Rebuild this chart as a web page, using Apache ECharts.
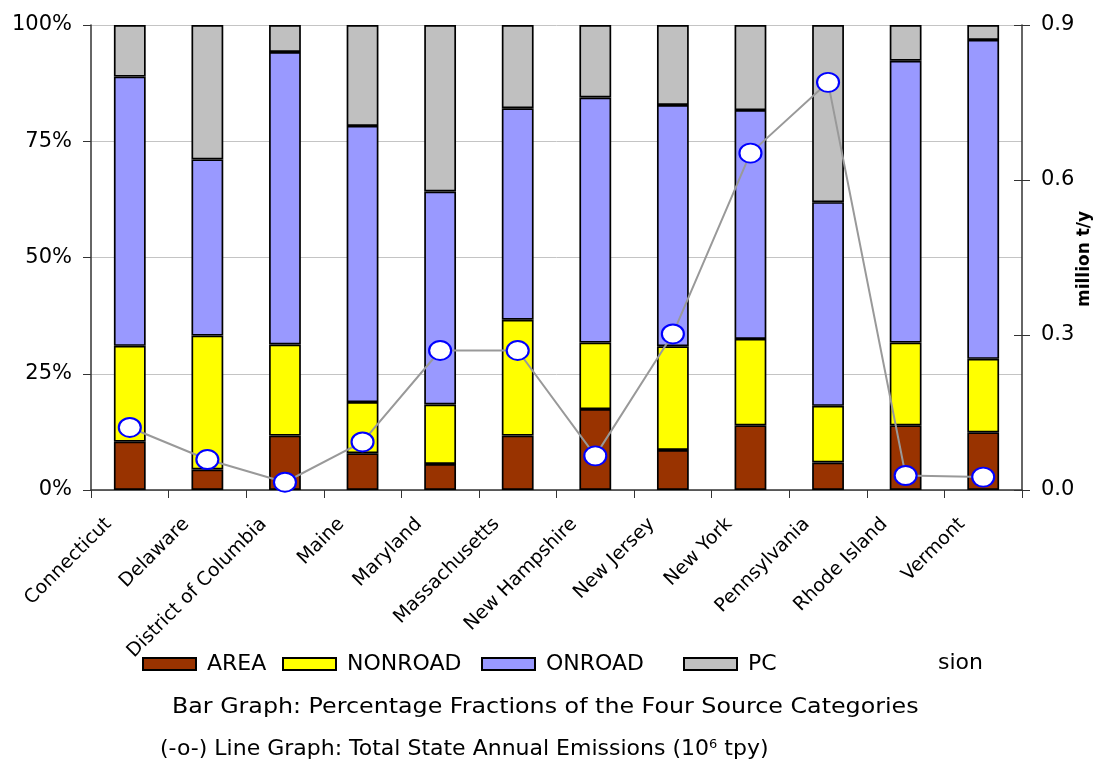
<!DOCTYPE html>
<html><head><meta charset="utf-8">
<script src="https://cdn.jsdelivr.net/npm/echarts@6/dist/echarts.min.js"></script>
<style>html,body{margin:0;padding:0;background:#fff;}#c{width:1096px;height:767px;}</style>
</head><body><div id="c"></div>
<script>
const categories = ['Connecticut','Delaware','District of Columbia','Maine','Maryland','Massachusetts','New Hampshire','New Jersey','New York','Pennsylvania','Rhode Island','Vermont'];
const areaPct    = [10.4, 4.4, 11.7, 7.9, 5.6, 11.7, 17.4, 8.6, 13.9, 5.9, 13.9, 12.4];
const nonroadPct = [20.6, 28.8, 19.6, 11.0, 12.8, 24.9, 14.3, 22.3, 18.6, 12.2, 17.8, 15.8];
const onroadPct  = [57.9, 37.9, 62.9, 59.4, 45.8, 45.5, 52.7, 51.9, 49.2, 43.8, 60.6, 68.6];
const pointPct   = [11.1, 28.9, 5.8, 21.7, 35.8, 17.9, 15.6, 17.2, 18.3, 38.1, 7.7, 3.2];
const totalEmissions = [0.121, 0.059, 0.015, 0.093, 0.270, 0.270, 0.066, 0.302, 0.652, 0.789, 0.028, 0.025];
const leftTicks = [0, 25, 50, 75, 100];
const rightTicks = [0, 0.3, 0.6, 0.9];
const seriesNames = ['AREA', 'NONROAD', 'ONROAD', 'POINT'];

const F = '"DejaVu Sans", sans-serif';
const chart = echarts.init(document.getElementById('c'), null, {renderer:'canvas'});
function bar(name, data, color){
  return {name:name, type:'bar', stack:'pct', barWidth:'41%', data:data,
          itemStyle:{color:color, borderColor:'#000', borderWidth:1.7}};
}
const legendLefts = [142, 282, 481, 683];
const legends = seriesNames.map(function(n, i){
  return {
    top:653, left:legendLefts[i], padding:0, itemWidth:53, itemHeight:12, icon:'rect',
    textStyle:{fontFamily:F, fontSize:22, color:'#000', padding:[0,0,0,6]},
    data:[n],
    formatter:function(name){ return name==='POINT' ? 'PC' : name; }
  };
});
chart.setOption({
  animation:false,
  textStyle:{fontFamily:F},
  grid:{left:91, right:74, top:25, bottom:277, outerBoundsMode:'none', containLabel:false},
  legend:legends,
  xAxis:{
    type:'category', data:categories,
    axisLine:{lineStyle:{color:'#333', width:1.5}},
    axisTick:{show:true, interval:0, length:8, lineStyle:{color:'#333'}},
    axisLabel:{interval:0, rotate:45, fontSize:19, color:'#000', fontFamily:F, margin:10, padding:[0,30,0,0]}
  },
  yAxis:[
    {type:'value', min:leftTicks[0], max:leftTicks[leftTicks.length-1], interval:25, position:'left',
     axisLine:{show:true, lineStyle:{color:'#333', width:1.5}},
     axisTick:{show:true, length:8, lineStyle:{color:'#333'}},
     axisLabel:{formatter:'{value}%', fontSize:21, color:'#000', fontFamily:F, margin:19},
     splitLine:{show:true, lineStyle:{color:'#c4c4c4', width:1}}},
    {type:'value', min:rightTicks[0], max:rightTicks[rightTicks.length-1], interval:0.3, position:'right',
     axisLine:{show:true, lineStyle:{color:'#333', width:1.5}},
     axisTick:{show:true, length:8, lineStyle:{color:'#333'}},
     axisLabel:{formatter:function(v){return v.toFixed(1);}, fontSize:21, color:'#000', fontFamily:F, margin:19},
     splitLine:{show:false}},
    {type:'value', min:rightTicks[0], max:rightTicks[rightTicks.length-1], interval:0.3, position:'right',
     axisLine:{show:false}, axisTick:{show:true, inside:true, length:8, lineStyle:{color:'#333'}},
     axisLabel:{show:false}, splitLine:{show:false}}
  ],
  series:[
    bar(seriesNames[0], areaPct, '#993300'),
    bar(seriesNames[1], nonroadPct, '#FFFF00'),
    bar(seriesNames[2], onroadPct, '#9999FF'),
    bar(seriesNames[3], pointPct, '#C0C0C0'),
    {name:'Total', type:'line', yAxisIndex:1, data:totalEmissions,
     symbol:'circle', symbolSize:[22,19],
     lineStyle:{color:'#999', width:2},
     itemStyle:{color:'#fff', borderColor:'#0000ff', borderWidth:2},
     z:5}
  ],
  graphic:[
    {type:'text', x:1085, y:259, rotation:Math.PI/2,
     style:{text:'million t/y', font:'bold 17px '+F, fill:'#000', align:'center', verticalAlign:'middle'}},
    {type:'text', x:938, y:652, style:{text:'sion', font:'22px '+F, fill:'#000'}},
    {type:'text', x:172, y:696, scaleX:1.08, style:{text:'Bar Graph: Percentage Fractions of the Four Source Categories', font:'22px '+F, fill:'#000'}},
    {type:'text', x:160, y:738, style:{
      text:'(-o-) Line Graph: Total State Annual Emissions (10{s|6} tpy)',
      font:'22px '+F, fill:'#000',
      rich:{s:{fontSize:13, verticalAlign:'top', padding:[0,0,10,0], fontFamily:F}}
    }}
  ]
});
</script></body></html>
